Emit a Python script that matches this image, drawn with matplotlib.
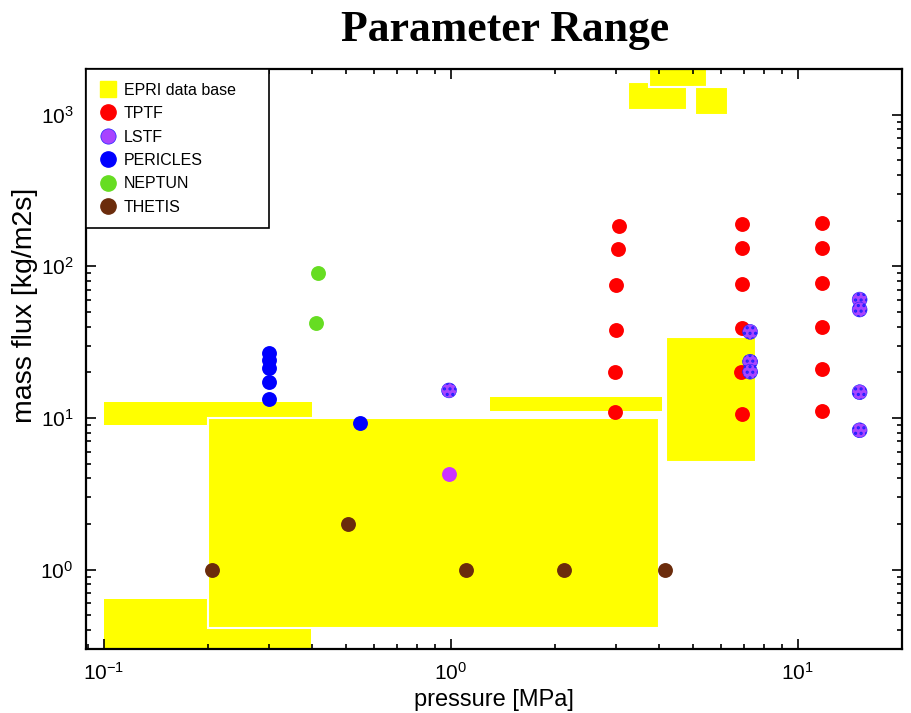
import matplotlib
matplotlib.use("Agg")
import matplotlib.pyplot as plt
from matplotlib.patches import Rectangle
from matplotlib.lines import Line2D
from matplotlib.ticker import NullFormatter

plt.rcParams['font.family'] = ['Liberation Sans', 'DejaVu Sans']
plt.rcParams['mathtext.default'] = 'regular'
plt.rcParams['hatch.linewidth'] = 1.5

# EPRI data base boxes: pressure range [MPa], mass flux range [kg/m2s]
epri_p_lo = [0.1, 0.1, 0.2, 1.3, 4.17, 3.24, 3.72, 5.05]
epri_p_hi = [0.395, 0.4, 4.0, 4.08, 7.6, 4.79, 5.47, 6.32]
epri_g_lo = [0.2, 9.0, 0.41, 11.1, 5.1, 1080, 1530, 1000]
epri_g_hi = [0.64, 12.8, 10.0, 13.8, 34.3, 1630, 2600, 1530]
epri_edge = ['none', 'none', 'white', 'none', 'white', 'white', 'white', 'white']

tptf_p = [3.05, 3.03, 3.0, 3.0, 2.98, 2.98,
          6.9, 6.9, 6.9, 6.9, 6.85, 6.9,
          11.8, 11.8, 11.8, 11.8, 11.8, 11.8]
tptf_g = [185, 130, 75, 38, 20, 11,
          190, 133, 76, 39, 20, 10.6,
          192, 133, 78, 40, 21, 11.1]

lstf_p = [0.99, 7.3, 7.3, 7.3, 15.1, 15.1, 15.1, 15.1]
lstf_g = [15.2, 37, 23.5, 20.2, 60.4, 51.9, 14.8, 8.3]
lstf_solid_p = [0.99]
lstf_solid_g = [4.26]

pericles_p = [0.3, 0.3, 0.3, 0.3, 0.3, 0.547]
pericles_g = [27, 24, 21.5, 17.3, 13.4, 9.3]

neptun_p = [0.414, 0.41]
neptun_g = [91, 42.6]

thetis_p = [0.206, 0.508, 1.105, 2.12, 4.14]
thetis_g = [1, 2, 1, 1, 1]

fig = plt.figure(figsize=(9.11, 7.13), dpi=100)
ax = fig.add_axes([0.0944, 0.0898, 0.8957, 0.8134])
ax.set_xscale('log')
ax.set_yscale('log')
ax.set_xlim(0.089, 20)
ax.set_ylim(0.3, 2000)

for x0, x1, y0, y1, ec in zip(epri_p_lo, epri_p_hi, epri_g_lo, epri_g_hi, epri_edge):
    ax.add_patch(Rectangle((x0, y0), x1 - x0, y1 - y0, facecolor='#ffff00',
                           edgecolor=ec, linewidth=1.5, zorder=1))

ms = 115
ax.scatter(tptf_p, tptf_g, s=ms, color='#ff0000', linewidths=0, zorder=3)
ax.scatter(lstf_p, lstf_g, s=ms, facecolor='#a844ff', edgecolor='#2020ff',
           linewidths=0.4, hatch='...', zorder=4)
ax.scatter(lstf_solid_p, lstf_solid_g, s=ms, color='#cc33ff', linewidths=0, zorder=4)
ax.scatter(pericles_p, pericles_g, s=ms, color='#0000ff', linewidths=0, zorder=3)
ax.scatter(neptun_p, neptun_g, s=ms, color='#66dd22', linewidths=0, zorder=3)
ax.scatter(thetis_p, thetis_g, s=ms, color='#6b2c0c', linewidths=0, zorder=3)

for sp in ax.spines.values():
    sp.set_linewidth(1.6)
ax.tick_params(which='both', direction='in', top=True, right=True, width=1.2)
ax.tick_params(which='major', length=7, labelsize=15, pad=9)
ax.tick_params(which='minor', length=3.5)
ax.xaxis.set_minor_formatter(NullFormatter())
ax.yaxis.set_minor_formatter(NullFormatter())

ax.set_xlabel('pressure [MPa]', fontsize=17, labelpad=4)
ax.set_ylabel('mass flux [kg/m2s]', fontsize=20.5)
ax.yaxis.set_label_coords(-0.059, 0.593)

fig.text(0.554, 0.958, 'Parameter Range', fontsize=31.5, fontweight='bold',
         family=['Liberation Serif', 'DejaVu Serif'], ha='center', va='center')

handles = [
    Line2D([], [], marker='s', linestyle='none', markersize=11, color='#ffff00'),
    Line2D([], [], marker='o', linestyle='none', markersize=11, color='#ff0000'),
    Line2D([], [], marker='o', linestyle='none', markersize=11, color='#a844ff',
           markeredgecolor='#2020ff', markeredgewidth=0.5),
    Line2D([], [], marker='o', linestyle='none', markersize=11, color='#0000ff'),
    Line2D([], [], marker='o', linestyle='none', markersize=11, color='#66dd22'),
    Line2D([], [], marker='o', linestyle='none', markersize=11, color='#6b2c0c'),
]
labels = ['EPRI data base', 'TPTF', 'LSTF', 'PERICLES', 'NEPTUN', 'THETIS']
leg = ax.legend(handles, labels, loc='upper left', bbox_to_anchor=(0, 1, 0.224, 0),
                mode='expand', borderaxespad=0, fontsize=11.5,
                handlelength=1.0, handletextpad=0.5, labelspacing=0.53,
                fancybox=False, edgecolor='black', framealpha=1, borderpad=0.85)
leg.get_frame().set_linewidth(1.2)
leg.set_zorder(10)

fig.savefig('out.png', dpi=100)
